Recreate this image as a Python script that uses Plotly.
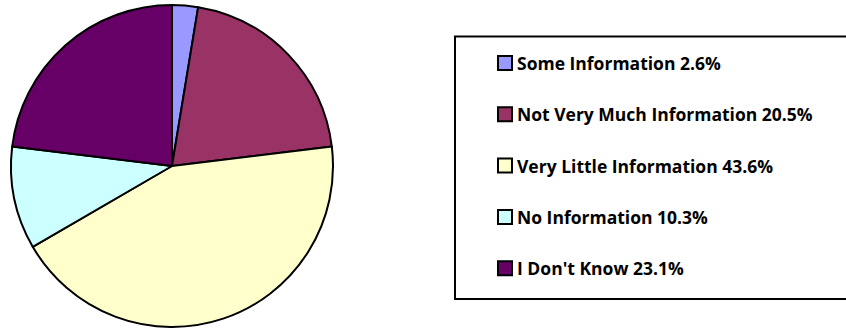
import plotly.graph_objects as go

# Survey responses: how much information respondents said they had
labels = ["Some Information", "Not Very Much Information", "Very Little Information",
          "No Information", "I Don't Know"]
percents = [2.6, 20.5, 43.6, 10.3, 23.1]
colors = ["#9999FF", "#993366", "#FFFFCC", "#CCFFFF", "#660066"]

W, H = 846, 330

fig = go.Figure(go.Pie(
    labels=labels,
    values=percents,
    sort=False,
    direction="clockwise",
    rotation=0,
    marker=dict(colors=colors, line=dict(color="#000000", width=2)),
    textinfo="none",
    hoverinfo="label+percent",
    showlegend=False,
    domain=dict(x=[11 / W, 333 / W], y=[3 / H, 325 / H]),
))

# Legend frame (runs off the right edge of the page)
box_left, box_top, box_bottom = 455, 36.5, 299
fig.add_shape(type="rect", xref="paper", yref="paper",
              x0=box_left / W, x1=(W + 10) / W,
              y0=1 - box_bottom / H, y1=1 - box_top / H,
              line=dict(color="#000000", width=2), fillcolor="rgba(0,0,0,0)")

# Legend entries: swatch plus label with its percentage
first_row, row_step, swatch = 63, 51.3, 14
sw_x = 498
for i, (lab, pct, col) in enumerate(zip(labels, percents, colors)):
    yc = first_row + i * row_step
    fig.add_shape(type="rect", xref="paper", yref="paper",
                  x0=sw_x / W, x1=(sw_x + swatch) / W,
                  y0=1 - (yc + swatch / 2) / H, y1=1 - (yc - swatch / 2) / H,
                  line=dict(color="#000000", width=2), fillcolor=col)
    fig.add_annotation(xref="paper", yref="paper", x=515 / W, y=1 - yc / H,
                       xanchor="left", yanchor="middle", showarrow=False,
                       text=f"<b>{lab} {pct}%</b>",
                       font=dict(family="Open Sans", size=17.5, color="#000000"))

fig.update_layout(
    width=W, height=H,
    margin=dict(l=0, r=0, t=0, b=0),
    paper_bgcolor="#FFFFFF",
    plot_bgcolor="#FFFFFF",
)

fig.write_html("out.html")
